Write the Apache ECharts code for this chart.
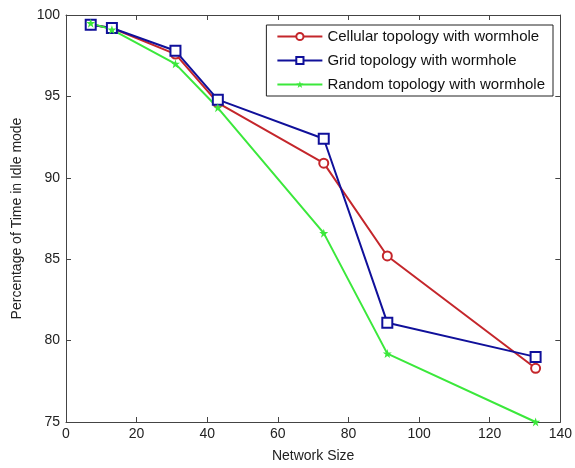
<!DOCTYPE html>
<html><head><meta charset="utf-8">
<script src="https://cdn.jsdelivr.net/npm/echarts@6/dist/echarts.min.js"></script>
<style>html,body{margin:0;padding:0;background:#fff}#c{width:575px;height:468px}</style>
</head><body><div id="c"></div>
<script>
const networkSize = [7, 13, 31, 43, 73, 91, 133];
const cellular = [99.4, 99.2, 97.6, 94.6, 90.9, 85.2, 78.3];
const grid = [99.4, 99.2, 97.8, 94.8, 92.4, 81.1, 79.0];
const random = [99.5, 99.1, 97.0, 94.3, 86.6, 79.2, 75.0];
const seriesNames = ['Cellular topology with wormhole', 'Grid topology with wormhole', 'Random topology with wormhole'];
const xTicks = [0, 20, 40, 60, 80, 100, 120, 140];
const yTicks = [75, 80, 85, 90, 95, 100];

const pair = (ys) => networkSize.map((x, i) => [x, ys[i]]);
const starPath = 'path://M5,0 L6.2,3.5 L10,3.5 L7,5.8 L8.1,9.5 L5,7.2 L1.9,9.5 L3,5.8 L0,3.5 L3.8,3.5 Z';
const font = 'Liberation Sans, Arial, sans-serif';
const axisCol = '#444';

const chart = echarts.init(document.getElementById('c'));
const baseX = {
  type: 'value', min: xTicks[0], max: xTicks[xTicks.length - 1], interval: 20,
  axisLine: { show: true, onZero: false, lineStyle: { color: axisCol, width: 1 } },
  axisTick: { show: true, inside: true, length: 5, lineStyle: { color: axisCol } },
  splitLine: { show: false }
};
const baseY = {
  type: 'value', min: yTicks[0], max: yTicks[yTicks.length - 1], interval: 5,
  axisLine: { show: true, onZero: false, lineStyle: { color: axisCol, width: 1 } },
  axisTick: { show: true, inside: true, length: 5, lineStyle: { color: axisCol } },
  splitLine: { show: false }
};
chart.setOption({
  animation: false,
  backgroundColor: '#fff',
  textStyle: { fontFamily: font },
  grid: { left: 66, right: 13, top: 15, bottom: 43 },
  legend: {
    data: seriesNames,
    orient: 'vertical', right: 22, top: 25,
    borderColor: '#222', borderWidth: 1, padding: [4, 8, 4, 10],
    itemGap: 9, itemWidth: 45, itemHeight: 9,
    textStyle: { fontFamily: font, fontSize: 15, color: '#111' },
    backgroundColor: '#fff'
  },
  xAxis: [
    Object.assign({}, baseX, {
      position: 'bottom', name: 'Network Size', nameLocation: 'middle', nameGap: 27,
      nameTextStyle: { fontFamily: font, fontSize: 14, color: '#222' },
      axisLabel: { fontFamily: font, fontSize: 14, color: '#222', margin: 5 }
    }),
    Object.assign({}, baseX, { position: 'top', axisLabel: { show: false } })
  ],
  yAxis: [
    Object.assign({}, baseY, {
      position: 'left', name: 'Percentage of Time in Idle mode', nameLocation: 'middle', nameGap: 42,
      nameTextStyle: { fontFamily: font, fontSize: 14, color: '#222' },
      axisLabel: { fontFamily: font, fontSize: 14, color: '#222', margin: 6 }
    }),
    Object.assign({}, baseY, { position: 'right', axisLabel: { show: false } })
  ],
  series: [
    { name: seriesNames[0], type: 'line', data: pair(cellular), symbol: 'emptyCircle', symbolSize: 9,
      color: '#c4262b', lineStyle: { width: 2, color: '#c4262b' }, itemStyle: { color: '#c4262b', borderWidth: 1.5 } },
    { name: seriesNames[1], type: 'line', data: pair(grid), symbol: 'emptyRect', symbolSize: 10,
      color: '#10109a', lineStyle: { width: 2, color: '#10109a' }, itemStyle: { color: '#10109a', borderWidth: 1.5 } },
    { name: seriesNames[2], type: 'line', data: pair(random), symbol: starPath, symbolSize: 9,
      color: '#3be83b', lineStyle: { width: 2, color: '#3be83b' }, itemStyle: { color: '#3be83b' } }
  ]
});
</script></body></html>
